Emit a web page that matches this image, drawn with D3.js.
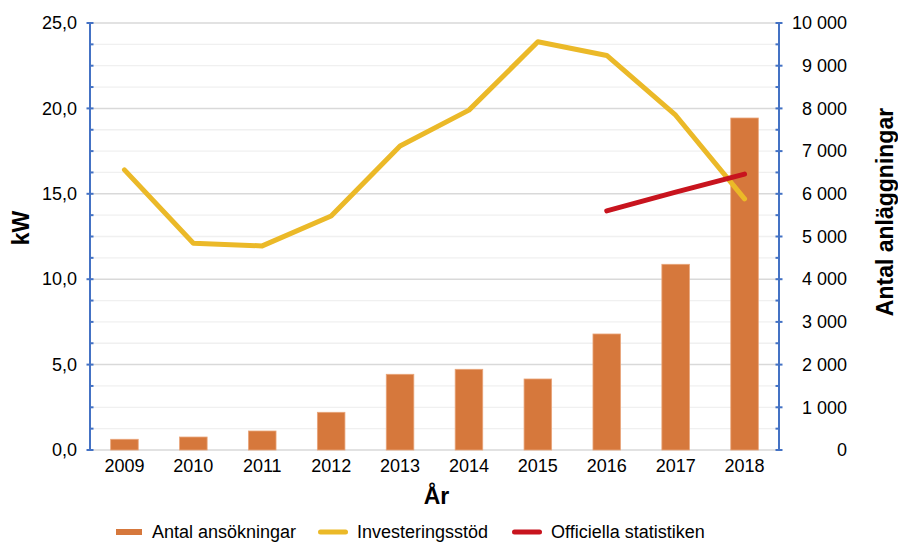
<!DOCTYPE html>
<html>
<head>
<meta charset="utf-8">
<script src="https://cdn.jsdelivr.net/npm/d3@7"></script>
<style>
  html, body { margin: 0; padding: 0; background: #fff; }
  svg { display: block; font-family: "Liberation Sans", Arial, sans-serif; }
</style>
</head>
<body>
<svg id="chart" width="898" height="542"></svg>
<script>
// Years on the category axis
const years = ["2009", "2010", "2011", "2012", "2013", "2014", "2015", "2016", "2017", "2018"];
// Number of applications (right axis)
const antalAnsokningar = [251, 304, 445, 883, 1773, 1890, 1663, 2717, 4349, 7775];
// Average installed power with investment support, kW (left axis)
const investeringsstod = [16.4, 12.1, 11.95, 13.7, 17.8, 19.9, 23.9, 23.1, 19.6, 14.7];
// Official statistics, kW (left axis), available from 2016
const officiellaYears = ["2016", "2017", "2018"];
const officiellaStatistiken = [14.0, 15.1, 16.15];

const seriesNames = ["Antal ansökningar", "Investeringsstöd", "Officiella statistiken"];
const leftTicks = [0, 5, 10, 15, 20, 25];
const rightTicks = [0, 1000, 2000, 3000, 4000, 5000, 6000, 7000, 8000, 9000, 10000];

const colors = { bar: "#D6783C", yellow: "#EBB928", red: "#C8141E", axis: "#4472C4" };

const svg = d3.select("#chart");
const plotLeft = 90, plotRight = 779, plotTop = 23, plotBottom = 450;

const x = d3.scaleBand().domain(years).range([plotLeft, plotRight]).paddingInner(0.6).paddingOuter(0.3);
const xc = d => x(d) + x.bandwidth() / 2;
const yL = d3.scaleLinear().domain([0, 25]).range([plotBottom, plotTop]);
const yR = d3.scaleLinear().domain([0, 10000]).range([plotBottom, plotTop]);

// Gridlines: minor every 1.25 kW, major every 5 kW
const minorGrid = d3.range(0, 25.001, 1.25).filter(v => Math.abs(v % 5) > 1e-6);
svg.append("g").selectAll("line").data(minorGrid).join("line")
  .attr("x1", plotLeft).attr("x2", plotRight)
  .attr("y1", d => yL(d)).attr("y2", d => yL(d))
  .attr("stroke", "#F0F0F0").attr("stroke-width", 1.3);
svg.append("g").selectAll("line").data(leftTicks).join("line")
  .attr("x1", plotLeft).attr("x2", plotRight)
  .attr("y1", d => yL(d)).attr("y2", d => yL(d))
  .attr("stroke", "#D9D9D9").attr("stroke-width", 1.5);

// Bars
svg.append("g").selectAll("rect").data(years).join("rect")
  .attr("x", d => x(d))
  .attr("width", x.bandwidth())
  .attr("y", (d, i) => yR(antalAnsokningar[i]))
  .attr("height", (d, i) => plotBottom - yR(antalAnsokningar[i]))
  .attr("fill", colors.bar)
  .attr("stroke", "#E9A57A").attr("stroke-width", 0.8);

// Lines
const lineL = d3.line().x(d => xc(d[0])).y(d => yL(d[1]));
svg.append("path")
  .datum(years.map((y, i) => [y, investeringsstod[i]]))
  .attr("d", lineL)
  .attr("fill", "none").attr("stroke", colors.yellow)
  .attr("stroke-width", 5).attr("stroke-linecap", "round").attr("stroke-linejoin", "round");
svg.append("path")
  .datum(officiellaYears.map((y, i) => [y, officiellaStatistiken[i]]))
  .attr("d", lineL)
  .attr("fill", "none").attr("stroke", colors.red)
  .attr("stroke-width", 5).attr("stroke-linecap", "round").attr("stroke-linejoin", "round");

// Left axis
const leftAxis = d3.axisLeft(yL).tickValues(leftTicks)
  .tickFormat(d => d3.format(".1f")(d).replace(".", ",")).tickSize(0).tickPadding(13);
const gL = svg.append("g").attr("transform", `translate(${plotLeft},0)`).call(leftAxis);
gL.select(".domain").remove();
gL.selectAll("text").attr("font-size", 18).attr("fill", "#000")
  .attr("font-family", "Liberation Sans, Arial, sans-serif");
svg.append("line").attr("x1", plotLeft).attr("x2", plotLeft).attr("y1", plotTop - 1).attr("y2", plotBottom + 1)
  .attr("stroke", colors.axis).attr("stroke-width", 2);
svg.append("g").selectAll("line").data(leftTicks).join("line")
  .attr("x1", plotLeft - 3.5).attr("x2", plotLeft + 3.5)
  .attr("y1", d => yL(d)).attr("y2", d => yL(d))
  .attr("stroke", colors.axis).attr("stroke-width", 2);
svg.append("g").selectAll("line").data(minorGrid).join("line")
  .attr("x1", plotLeft).attr("x2", plotLeft + 3.5)
  .attr("y1", d => yL(d)).attr("y2", d => yL(d))
  .attr("stroke", colors.axis).attr("stroke-width", 2);

// Right axis
const fmtSpace = d => d3.format(",")(d).replace(/,/g, " ");
const rightAxis = d3.axisRight(yR).tickValues(rightTicks).tickFormat(fmtSpace).tickSize(0).tickPadding(0);
const gR = svg.append("g").attr("transform", `translate(${plotRight},0)`).call(rightAxis);
gR.select(".domain").remove();
gR.selectAll("text").attr("font-size", 18).attr("fill", "#000")
  .attr("text-anchor", "end").attr("x", 68)
  .attr("font-family", "Liberation Sans, Arial, sans-serif");
svg.append("line").attr("x1", plotRight).attr("x2", plotRight).attr("y1", plotTop - 1).attr("y2", plotBottom + 1)
  .attr("stroke", colors.axis).attr("stroke-width", 2);
svg.append("g").selectAll("line").data(rightTicks).join("line")
  .attr("x1", plotRight - 3.5).attr("x2", plotRight + 3.5)
  .attr("y1", d => yR(d)).attr("y2", d => yR(d))
  .attr("stroke", colors.axis).attr("stroke-width", 2);
svg.append("g").selectAll("line").data(d3.range(500, 10000, 1000)).join("line")
  .attr("x1", plotRight - 3.5).attr("x2", plotRight)
  .attr("y1", d => yR(d)).attr("y2", d => yR(d))
  .attr("stroke", colors.axis).attr("stroke-width", 2);

// Category axis labels
const xAxis = d3.axisBottom(x).tickSize(0).tickPadding(9);
const gX = svg.append("g").attr("transform", `translate(0,${plotBottom})`).call(xAxis);
gX.select(".domain").remove();
gX.selectAll("text").attr("font-size", 18).attr("fill", "#000")
  .attr("font-family", "Liberation Sans, Arial, sans-serif");

// Axis titles
svg.append("text").attr("transform", `translate(29,228) rotate(-90)`)
  .attr("text-anchor", "middle").attr("font-size", 23).attr("font-weight", "bold").text("kW");
svg.append("text").attr("transform", `translate(893,212) rotate(-90)`)
  .attr("text-anchor", "middle").attr("font-size", 23).attr("font-weight", "bold").text("Antal anläggningar");
svg.append("text").attr("x", (plotLeft + plotRight) / 2 + 2).attr("y", 504)
  .attr("text-anchor", "middle").attr("font-size", 23).attr("font-weight", "bold").text("År");

// Legend
const legendX = [116, 318, 512];
const legend = svg.append("g");
seriesNames.forEach((name, i) => {
  const g = legend.append("g").attr("transform", `translate(${legendX[i]},532)`);
  if (i === 0) {
    g.append("rect").attr("x", 0).attr("y", -3).attr("width", 26).attr("height", 6).attr("fill", colors.bar);
  } else {
    g.append("line").attr("x1", 2.5).attr("x2", 27.5).attr("y1", 0).attr("y2", 0)
      .attr("stroke", i === 1 ? colors.yellow : colors.red)
      .attr("stroke-width", 5).attr("stroke-linecap", "round");
  }
  g.append("text").attr("x", i === 0 ? 36 : 39).attr("y", 5.5)
    .attr("font-size", 18).attr("fill", "#000").text(name);
});
</script>
</body>
</html>
